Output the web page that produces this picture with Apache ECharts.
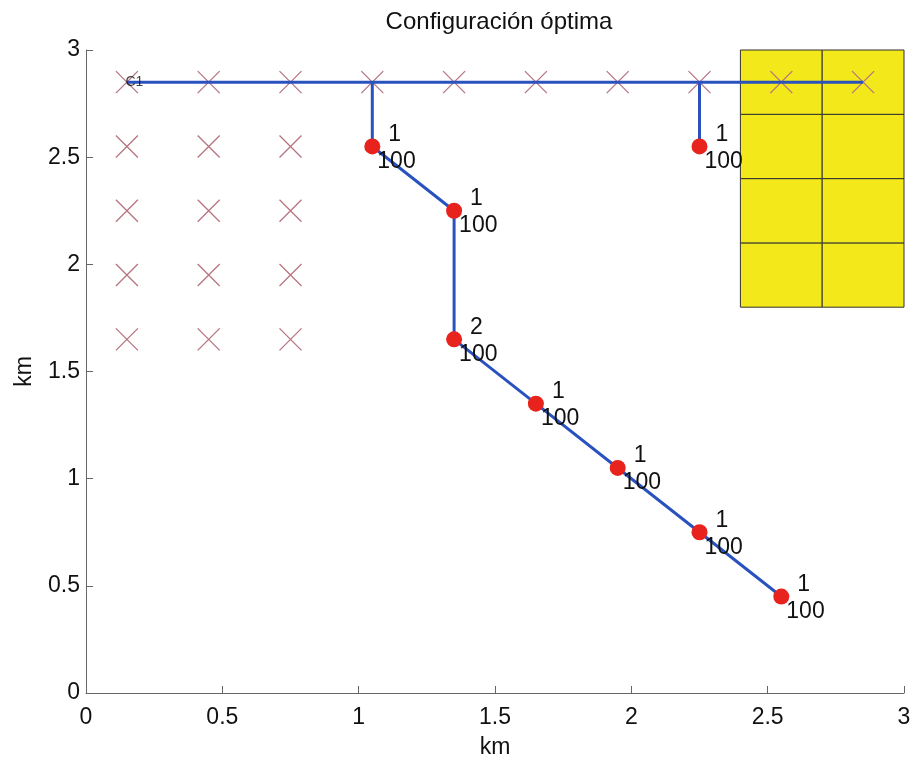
<!DOCTYPE html>
<html>
<head>
<meta charset="utf-8">
<script src="https://cdn.jsdelivr.net/npm/echarts@6/dist/echarts.min.js"></script>
<style>
  html, body { margin: 0; padding: 0; background: #fff; }
  #chart { width: 912px; height: 760px; }
</style>
</head>
<body>
<div id="chart"></div>
<script>
// candidate sites (x marks)
const candidates = [
  [0.15, 2.85], [0.45, 2.85], [0.75, 2.85], [1.05, 2.85], [1.35, 2.85],
  [1.65, 2.85], [1.95, 2.85], [2.25, 2.85], [2.55, 2.85], [2.85, 2.85],
  [0.15, 2.55], [0.45, 2.55], [0.75, 2.55],
  [0.15, 2.25], [0.45, 2.25], [0.75, 2.25],
  [0.15, 1.95], [0.45, 1.95], [0.75, 1.95],
  [0.15, 1.65], [0.45, 1.65], [0.75, 1.65]
];

// chosen nodes with their two labels
const nodes = [
  [1.05, 2.55], [2.25, 2.55], [1.35, 2.25], [1.35, 1.65],
  [1.65, 1.35], [1.95, 1.05], [2.25, 0.75], [2.55, 0.45]
];
const nodeCount = [1, 1, 1, 2, 1, 1, 1, 1];
const nodeValue = [100, 100, 100, 100, 100, 100, 100, 100];

// network lines
const trunk = [[0.15, 2.85], [2.85, 2.85]];
const branchA = [[1.05, 2.85], [1.05, 2.55], [1.35, 2.25], [1.35, 1.65],
  [1.65, 1.35], [1.95, 1.05], [2.25, 0.75], [2.55, 0.45]];
const branchB = [[2.25, 2.85], [2.25, 2.55]];

// yellow zone edges
const zoneX = [2.4, 2.7, 3.0];
const zoneY = [1.8, 2.1, 2.4, 2.7, 3.0];

const ticks = [0, 0.5, 1, 1.5, 2, 2.5, 3];

const chart = echarts.init(document.getElementById('chart'));

const zoneCells = [];
for (let i = 0; i < zoneX.length - 1; i++) {
  for (let j = 0; j < zoneY.length - 1; j++) {
    zoneCells.push([{ coord: [zoneX[i], zoneY[j]] }, { coord: [zoneX[i + 1], zoneY[j + 1]] }]);
  }
}

const font = 'Liberation Sans';
const axisCommon = {
  type: 'value',
  min: ticks[0],
  max: ticks[ticks.length - 1],
  interval: 0.5,
  splitLine: { show: false },
  axisLine: { show: true, lineStyle: { color: '#666', width: 1 } },
  axisTick: { show: true, inside: true, length: 7, lineStyle: { color: '#666' } },
  axisLabel: { color: '#111', fontSize: 23, fontFamily: font },
  nameLocation: 'middle',
  nameTextStyle: { color: '#111', fontSize: 23, fontFamily: font }
};

const lineStyle = { color: '#2a52be', width: 3 };
const lineSeries = (data) => ({
  type: 'line', data: data, symbol: 'none', z: 3,
  lineStyle: lineStyle, animation: false
});

chart.setOption({
  animation: false,
  title: {
    text: 'Configuración óptima',
    left: 494, top: 5, textAlign: 'center',
    textStyle: { color: '#111', fontSize: 24, fontWeight: 'normal', fontFamily: font }
  },
  grid: { left: 86, right: 8, top: 50, bottom: 67, outerBoundsMode: 'none' },
  xAxis: Object.assign({}, axisCommon, {
    name: 'km', nameGap: 43,
    axisLabel: Object.assign({}, axisCommon.axisLabel, { margin: 13 })
  }),
  yAxis: Object.assign({}, axisCommon, {
    name: 'km', nameGap: 50,
    axisLabel: Object.assign({}, axisCommon.axisLabel, { margin: 6 })
  }),
  series: [
    {
      type: 'scatter', data: [], z: 1,
      markArea: {
        silent: true,
        itemStyle: { color: '#f2e81a', borderColor: '#333', borderWidth: 1 },
        data: zoneCells
      }
    },
    {
      type: 'scatter', data: candidates, z: 2,
      symbol: 'path://M0,0L10,10M10,0L0,10',
      symbolSize: 22,
      itemStyle: { color: 'none', borderColor: '#b77480', borderWidth: 1.3, opacity: 1 }
    },
    lineSeries(trunk),
    lineSeries(branchA),
    lineSeries(branchB),
    {
      type: 'scatter', z: 4,
      data: nodes.map((p, i) => ({ value: p, c: nodeCount[i], v: nodeValue[i] })),
      symbol: 'circle', symbolSize: 16,
      itemStyle: { color: '#e8221c', opacity: 1 },
      label: {
        show: true,
        position: [13, -17.5],
        align: 'left',
        formatter: (p) => '{a|' + p.data.c + '}\n{b|' + p.data.v + '}',
        rich: {
          a: { fontSize: 23, fontFamily: font, color: '#111', padding: [0, 0, 0, 11], lineHeight: 27 },
          b: { fontSize: 23, fontFamily: font, color: '#111', lineHeight: 27 }
        }
      }
    },
    {
      type: 'scatter', z: 5,
      data: [trunk[0]],
      symbolSize: 1,
      itemStyle: { color: 'none' },
      label: {
        show: true, position: 'right', distance: -2, formatter: 'C1',
        fontSize: 14, fontFamily: font, color: '#111'
      }
    }
  ]
});
</script>
</body>
</html>
